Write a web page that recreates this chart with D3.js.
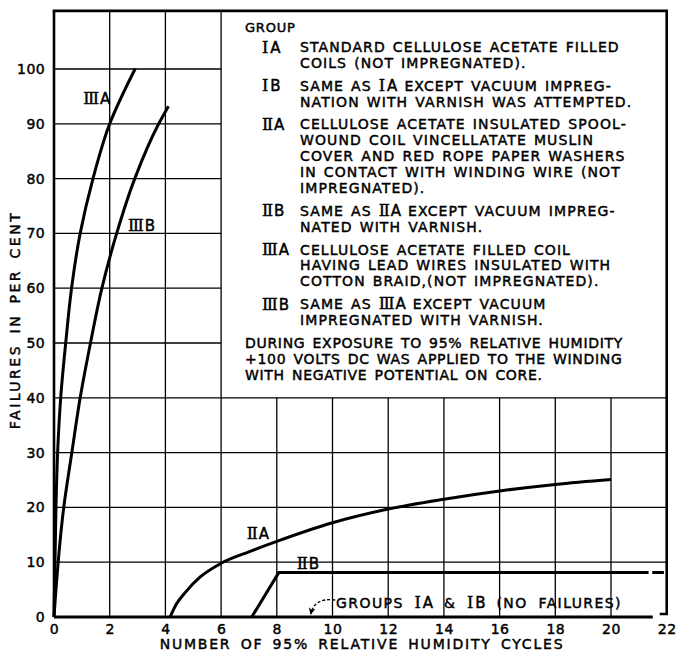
<!DOCTYPE html>
<html>
<head>
<meta charset="utf-8">
<script src="https://cdn.jsdelivr.net/npm/d3@7"></script>
<style>
  html, body { margin: 0; padding: 0; background: #fff; }
  svg { display: block; }
  text { font-family: "DejaVu Sans", sans-serif; fill: #000; stroke: #000; stroke-width: 0.45px; }
  .rn { font-family: "DejaVu Serif", serif; font-size: 16px; letter-spacing: -1.6px; }
  .rl { font-family: "DejaVu Sans", sans-serif; font-size: 15px; letter-spacing: 0; }
</style>
</head>
<body>
<script>
// ---------------- DATA ----------------
const xTicks = [0, 2, 4, 6, 8, 10, 12, 14, 16, 18, 20, 22];
const yTicks = [0, 10, 20, 30, 40, 50, 60, 70, 80, 90, 100];

// [cycles, failures %]
const seriesIIIA = [[0, 0], [0.07, 20], [0.13, 30], [0.24, 40], [0.42, 50], [0.63, 60], [0.94, 70], [1.4, 80], [2.0, 90], [2.92, 100.1]];
const seriesIIIB = [[0, 0], [0.35, 20], [0.64, 30], [0.94, 40], [1.31, 50], [1.72, 60], [2.25, 70], [2.9, 80], [3.76, 90], [4.11, 93.2]];
const seriesIIA  = [[4.17, 0], [4.4, 2.4], [4.7, 4.4], [5.25, 7.3], [6, 9.8], [7, 11.9], [8, 13.8], [10, 17.2], [12, 19.7], [14, 21.5], [16, 23.0], [18, 24.2], [20, 25.1]];
const seriesIIB  = [[7.1, 0], [8.07, 8.1], [21.35, 8.1], null, [21.48, 8.1], [21.9, 8.1]];
const seriesIAIB = [[0, 0], [21.5, 0]];

const curveLabels = ["IIIA", "IIIB", "IIA", "IIB"];

const legendGroups = ["IA", "IB", "IIA", "IIB", "IIIA", "IIIB"];
const legendTexts = [
  ["STANDARD CELLULOSE ACETATE FILLED", "COILS (NOT IMPREGNATED)."],
  ["SAME AS IA EXCEPT VACUUM IMPREG-", "NATION WITH VARNISH WAS ATTEMPTED."],
  ["CELLULOSE ACETATE INSULATED SPOOL-", "WOUND COIL VINCELLATATE MUSLIN", "COVER AND RED ROPE PAPER WASHERS", "IN CONTACT WITH WINDING WIRE (NOT", "IMPREGNATED)."],
  ["SAME AS IIA EXCEPT VACUUM IMPREG-", "NATED WITH VARNISH."],
  ["CELLULOSE ACETATE FILLED COIL", "HAVING LEAD WIRES INSULATED WITH", "COTTON BRAID,(NOT IMPREGNATED)."],
  ["SAME AS IIIA EXCEPT VACUUM", "IMPREGNATED WITH VARNISH."]
];
const noteLines = [
  "DURING EXPOSURE TO 95% RELATIVE HUMIDITY",
  "+100 VOLTS DC WAS APPLIED TO THE WINDING",
  "WITH NEGATIVE POTENTIAL ON CORE."
];
const legendTitle = "GROUP";
const annotationText = "GROUPS IA & IB (NO FAILURES)";
const xTitle = "NUMBER OF 95% RELATIVE HUMIDITY CYCLES";
const yTitle = "FAILURES IN PER CENT";

// ---------------- LAYOUT ----------------
const W = 677, H = 653;
const x = d3.scaleLinear().domain([0, 22]).range([54, 666.7]);
const y = d3.scaleLinear().domain([0, 100]).range([617, 69]);
const yTopVal = 110.6;
const legendX0 = 6, legendY0 = 40;

const svg = d3.select("body").append("svg").attr("width", W).attr("height", H);
svg.append("rect").attr("width", W).attr("height", H).attr("fill", "#fff");

function rich(sel, str) {
  const parts = str.split(/(\bI{1,3}[AB]\b)/);
  parts.forEach(p => {
    if (!p) return;
    const m = p.match(/^(I{1,3})([AB])$/);
    if (m) {
      sel.append("tspan").attr("class", "rn").text(m[1]);
      sel.append("tspan").attr("class", "rl").attr("dx", m[1].length === 1 ? 3.5 : 2.5).text(m[2]);
    } else {
      sel.append("tspan").text(p);
    }
  });
  return sel;
}

// ---------------- GRID ----------------
const grid = svg.append("g").attr("stroke", "#000").attr("stroke-width", 1.3);
xTicks.filter(v => v > 0 && v < 22).forEach(v => {
  grid.append("line")
    .attr("x1", x(v)).attr("x2", x(v))
    .attr("y1", y(0)).attr("y2", v <= legendX0 ? y(yTopVal) : y(legendY0));
});
yTicks.filter(v => v > 0).forEach(v => {
  grid.append("line")
    .attr("x1", x(0)).attr("x2", v <= legendY0 ? x(22) : x(legendX0))
    .attr("y1", y(v)).attr("y2", y(v));
});

// ---------------- FRAME ----------------
const frame = svg.append("g").attr("stroke", "#000").attr("fill", "none").attr("stroke-width", 2.6);
frame.append("line").attr("x1", x(0) - 1.3).attr("x2", x(22) + 1.3).attr("y1", y(yTopVal)).attr("y2", y(yTopVal));
frame.append("line").attr("x1", x(0)).attr("x2", x(0)).attr("y1", y(yTopVal)).attr("y2", y(0));
frame.append("path").attr("d", d3.line()([[x(22), y(yTopVal)], [x(22), y(0) - 3], [x(21.75), y(0) - 3]]));

// ---------------- AXES (labels) ----------------
const xAxis = svg.append("g").attr("transform", `translate(0,${y(0)})`)
  .call(d3.axisBottom(x).tickValues(xTicks).tickSize(0).tickPadding(7));
xAxis.select(".domain").remove();
xAxis.selectAll("text").attr("font-size", 14).attr("font-family", "DejaVu Sans").attr("letter-spacing", 0.5);

const yAxis = svg.append("g").attr("transform", `translate(${x(0)},0)`)
  .call(d3.axisLeft(y).tickValues(yTicks).tickSize(0).tickPadding(9));
yAxis.select(".domain").remove();
yAxis.selectAll("text").attr("font-size", 14).attr("font-family", "DejaVu Sans").attr("letter-spacing", 0.4);

svg.append("text").attr("x", 362).attr("y", 648.5).attr("text-anchor", "middle")
  .attr("font-size", 14).attr("letter-spacing", 1.8).attr("word-spacing", 3).text(xTitle);
svg.append("text").attr("transform", "translate(20,320) rotate(-90)").attr("text-anchor", "middle")
  .attr("font-size", 14).attr("letter-spacing", 2.5).attr("word-spacing", 3.5).text(yTitle);

// ---------------- SERIES ----------------
const line = d3.line().defined(d => d !== null).x(d => x(d[0])).y(d => y(d[1]));
const smoothY = d3.line().x(d => x(d[0])).y(d => y(d[1])).curve(d3.curveMonotoneY);
const smoothX = d3.line().x(d => x(d[0])).y(d => y(d[1])).curve(d3.curveMonotoneX);
const lines = svg.append("g").attr("fill", "none").attr("stroke", "#000").attr("stroke-width", 3).attr("stroke-linecap", "butt");
lines.append("path").attr("d", smoothY(seriesIIIA));
lines.append("path").attr("d", smoothY(seriesIIIB));
lines.append("path").attr("d", smoothX(seriesIIA));
lines.append("path").attr("d", line(seriesIIB));
lines.append("path").attr("d", line(seriesIAIB)).attr("stroke-width", 3.2);

// curve labels (anchored in data units)
const labelAnchors = [[1.05, 93.7], [2.66, 70.4], [6.92, 14.3], [8.72, 8.85]];
curveLabels.forEach((t, i) => {
  rich(svg.append("text").attr("x", x(labelAnchors[i][0])).attr("y", y(labelAnchors[i][1])).attr("font-size", 14), t);
});

// annotation
rich(svg.append("text").attr("x", x(10.13)).attr("y", y(1.64)).attr("font-size", 14)
  .attr("letter-spacing", 1.4).attr("word-spacing", 5), annotationText);
svg.append("defs").append("marker").attr("id", "arr").attr("viewBox", "0 0 10 10")
  .attr("refX", 9).attr("refY", 5).attr("markerWidth", 7).attr("markerHeight", 7).attr("orient", "auto")
  .attr("markerUnits", "userSpaceOnUse")
  .append("path").attr("d", "M0,0 L10,5 L0,10 L3,5 Z").attr("fill", "#000");
svg.append("path")
  .attr("d", `M${x(10.1)},${y(3.1)} Q${x(9.35)},${y(3.6)} ${x(9.22)},${y(0.55)}`)
  .attr("fill", "none").attr("stroke", "#000").attr("stroke-width", 1.4)
  .attr("stroke-dasharray", "3,2").attr("marker-end", "url(#arr)");

// ---------------- LEGEND ----------------
const lg = svg.append("g");
lg.append("text").attr("x", 245).attr("y", 32).attr("font-size", 13).attr("letter-spacing", 0.8).text(legendTitle);
const lineH = 15.9, blockGap = 22.8;
let cy = 47;
legendGroups.forEach((g, i) => {
  rich(lg.append("text").attr("x", 262).attr("y", cy + 5.5).attr("font-size", 14), g);
  legendTexts[i].forEach((t, j) => {
    rich(lg.append("text").attr("x", 300).attr("y", cy + j * lineH + 5)
      .attr("font-size", 14).attr("letter-spacing", 1.1).attr("word-spacing", 1.5), t);
  });
  cy += (legendTexts[i].length - 1) * lineH + blockGap;
});
noteLines.forEach((t, j) => {
  lg.append("text").attr("x", 245).attr("y", cy + j * lineH + 5)
    .attr("font-size", 14).attr("letter-spacing", 0.7).attr("word-spacing", 2).text(t);
});
</script>
</body>
</html>
